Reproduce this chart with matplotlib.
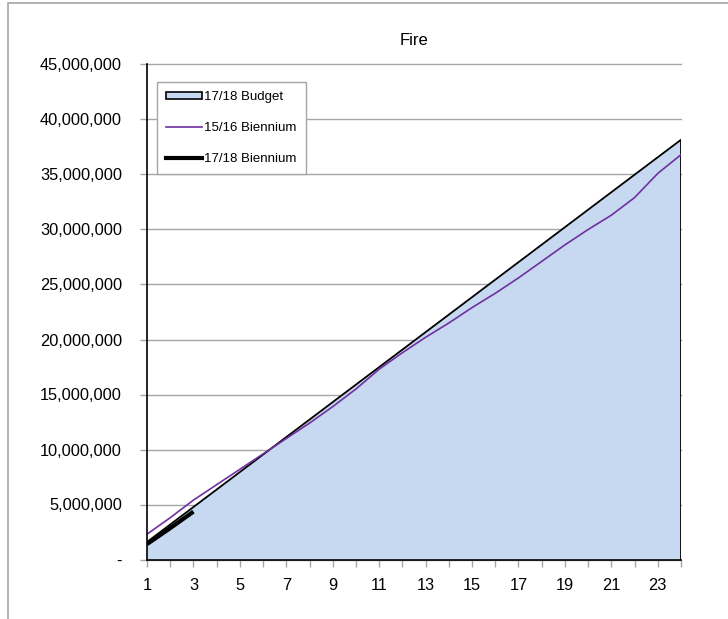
import matplotlib
matplotlib.use("Agg")
import matplotlib.pyplot as plt
from matplotlib.patches import Rectangle, Patch
from matplotlib.lines import Line2D
from matplotlib.ticker import FuncFormatter

plt.rcParams["font.family"] = ["Liberation Sans", "DejaVu Sans"]

# =========================
# Data (millions)
# =========================
months = list(range(1, 25))
budget_1718 = [1.59, 3.18, 4.77, 6.36, 7.95, 9.54, 11.13, 12.72, 14.31, 15.90,
               17.49, 19.08, 20.67, 22.26, 23.85, 25.44, 27.03, 28.62, 30.21, 31.80,
               33.39, 34.98, 36.57, 38.16]
biennium_1516 = [2.3, 3.8, 5.4, 6.8, 8.2, 9.6, 11.0, 12.4, 13.9, 15.5,
                 17.3, 18.8, 20.2, 21.5, 22.9, 24.2, 25.6, 27.1, 28.6, 30.0,
                 31.3, 32.9, 35.1, 36.8]
months_1718 = [1, 2, 3]
biennium_1718 = [1.4, 2.85, 4.35]

scale = 1e6
budget = [v * scale for v in budget_1718]
b1516 = [v * scale for v in biennium_1516]
b1718 = [v * scale for v in biennium_1718]

fill_color = "#C6D9F0"
purple = "#7030A0"
grid_gray = "#A6A6A6"

# =========================
# Plot
# =========================
fig = plt.figure(figsize=(7.28, 6.19), dpi=100)
ax = fig.add_axes([147 / 728, 59.5 / 619, 534 / 728, 495 / 619])

# outer chart frame
fig.patches.append(Rectangle((8 / 728, -0.05), 1.0, 1 - 3 / 619 + 0.05,
                             transform=fig.transFigure, fill=False,
                             edgecolor=grid_gray, linewidth=1.2))

ax.fill_between(months, 0, budget, facecolor=fill_color, edgecolor="none", zorder=2)
ax.plot(months + [24], budget + [0], color="black", linewidth=1.3, zorder=3)
ax.plot(months, b1516, color=purple, linewidth=1.2, zorder=4)
ax.plot(months_1718, b1718, color="black", linewidth=3.0, zorder=5,
        solid_capstyle="butt")

# =========================
# Axes
# =========================
ax.set_xlim(1, 24)
ax.set_ylim(0, 45e6)
ax.set_xticks(months)
ax.set_xticklabels([str(m) if m % 2 == 1 else "" for m in months])
ax.set_yticks([i * 5e6 for i in range(10)])
ax.yaxis.set_major_formatter(FuncFormatter(lambda v, p: "-" if v == 0 else f"{v:,.0f}"))

ax.grid(axis="y", color=grid_gray, linewidth=1.0, zorder=1)
for gl in ax.get_ygridlines():
    gl.set_clip_on(False)
ax.set_axisbelow(True)
for side in ["top", "right"]:
    ax.spines[side].set_visible(False)
for side in ["left", "bottom"]:
    ax.spines[side].set_color("black")
    ax.spines[side].set_linewidth(1.2)
    ax.spines[side].set_zorder(6)

ax.tick_params(axis="both", direction="out", length=5, width=1,
               color=grid_gray, labelsize=11.8)
ax.tick_params(axis="y", pad=13)
ax.tick_params(axis="x", pad=8)

ax.set_title("Fire", fontsize=12, pad=14)

# =========================
# Legend
# =========================
handles = [
    Patch(facecolor=fill_color, edgecolor="black", linewidth=1.2, label="17/18 Budget"),
    Line2D([0], [0], color=purple, linewidth=1.2, label="15/16 Biennium"),
    Line2D([0], [0], color="black", linewidth=3.0, label="17/18 Biennium"),
]
leg = ax.legend(handles=handles, loc="upper left",
                bbox_to_anchor=(157 / 728, 1 - 82 / 619),
                bbox_transform=fig.transFigure,
                fontsize=9.5, frameon=True, fancybox=False,
                edgecolor=grid_gray, framealpha=1,
                handlelength=2.7, handleheight=0.5, handletextpad=0.2,
                labelspacing=1.45, borderpad=0.68, borderaxespad=0)
leg.get_frame().set_linewidth(1.0)
leg.set_zorder(10)

plt.savefig("out.png", dpi=100)
